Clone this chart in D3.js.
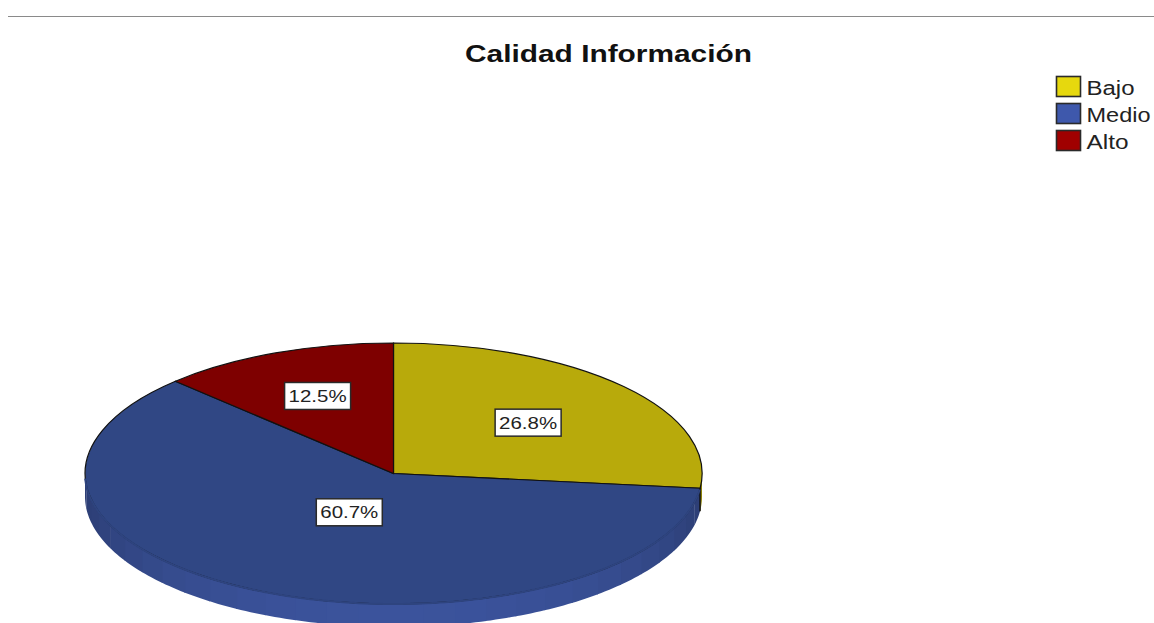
<!DOCTYPE html>
<html>
<head>
<meta charset="utf-8">
<script src="https://cdn.jsdelivr.net/npm/d3@7"></script>
<style>
html,body{margin:0;padding:0;background:#fff}
svg{display:block}
text{font-family:"Liberation Sans",Arial,sans-serif;fill:#222}
</style>
</head>
<body>
<svg id="chart" width="1154" height="623"></svg>
<script>
// Survey result: share of answers per level
const categories = ["Bajo", "Medio", "Alto"];
const shares = [26.8, 60.7, 12.5];
const chartTitle = "Calidad Información";

const faceColors = ["#b8aa0b", "#304784", "#7e0000"];
const rimColors = ["#b8aa0b", "#3b539c", "#7e0000"];
const legendColors = ["#e6d80e", "#3e58ac", "#a00000"];

const W = 1154, H = 623;
const cx = 393.5, cy = 473.5, rx = 308.5, ry = 130.5, depth = 23;
const labelRadius = [0.585, 0.33, 0.643];

const svg = d3.select("#chart");

// Rule above the title
svg.append("line").attr("x1", 8).attr("x2", W).attr("y1", 16.5).attr("y2", 16.5)
  .attr("stroke", "#8a8a8a");

svg.append("text").attr("x", 608.5).attr("y", 62).attr("text-anchor", "middle")
  .attr("font-size", 23).attr("font-weight", "bold")
  .attr("textLength", 287).attr("lengthAdjust", "spacingAndGlyphs")
  .style("fill", "#111").text(chartTitle);

// Pie angles run clockwise from twelve o'clock
const pie = d3.pie().sort(null).value(d => d);
const slices = pie(shares);

const px = a => cx + rx * Math.sin(a);
const py = a => cy - ry * Math.cos(a);

// Rim: one thin band per step, lit most strongly toward the viewer
const rimStep = Math.PI / 30;
const rim = svg.append("g");
const rimShade = d3.scaleLinear().domain([0.2, 1]).range([0.76, 1]).clamp(true);
slices.forEach((s, i) => {
  const from = Math.max(s.startAngle, Math.PI / 2);
  const to = Math.min(s.endAngle, 3 * Math.PI / 2);
  if (to <= from) return;
  const base = d3.rgb(rimColors[i]);
  const stops = d3.range(from, to, rimStep).concat([to]);
  d3.pairs(stops).forEach(([a0, a1]) => {
    const mid = (a0 + a1) / 2;
    const k = rimShade(-Math.cos(mid));
    const fill = d3.rgb(base.r * k, base.g * k, base.b * k);
    const top = d3.range(0, 7).map(j => a0 + (a1 - a0 + 0.004) * j / 6);
    const path = d3.path();
    top.forEach((a, j) => j ? path.lineTo(px(a), py(a)) : path.moveTo(px(a), py(a)));
    top.slice().reverse().forEach(a => path.lineTo(px(a), py(a) + depth));
    path.closePath();
    rim.append("path").attr("d", path.toString()).attr("fill", fill.formatHex());
  });
});

// Dark edge where the first and second slices meet on the rim
const seam = slices[0].endAngle;
svg.append("line")
  .attr("x1", px(seam)).attr("x2", px(seam))
  .attr("y1", py(seam)).attr("y2", py(seam) + depth)
  .attr("stroke", "#111").attr("stroke-width", 1.5);

// Top face: unit-radius arcs squeezed into an ellipse
const arc = d3.arc().innerRadius(0).outerRadius(1);
svg.append("g")
  .attr("transform", `translate(${cx},${cy}) scale(${rx},${ry})`)
  .selectAll("path").data(slices).join("path")
  .attr("d", arc)
  .attr("fill", (d, i) => faceColors[i])
  .attr("stroke", "#111")
  .attr("stroke-width", 1.2)
  .attr("vector-effect", "non-scaling-stroke");

// Soften the outline along the front, where the face meets the rim
const front = d3.path();
const frontAngles = d3.range(seam + 0.01, 3 * Math.PI / 2 - 0.03, 0.02);
frontAngles.forEach((a, j) => j ? front.lineTo(px(a), py(a)) : front.moveTo(px(a), py(a)));
svg.append("path").attr("d", front.toString()).attr("fill", "none")
  .attr("stroke", "#2e447f").attr("stroke-width", 2);

// Value labels
const labels = svg.append("g").selectAll("g").data(slices).join("g")
  .attr("transform", (d, i) => {
    const a = (d.startAngle + d.endAngle) / 2;
    return `translate(${cx + rx * labelRadius[i] * Math.sin(a)},${cy - ry * labelRadius[i] * Math.cos(a)})`;
  });
labels.append("rect").attr("x", -33).attr("y", -13.5).attr("width", 66).attr("height", 27)
  .attr("fill", "#fff").attr("stroke", "#2a2a2a").attr("stroke-width", 1.5);
labels.append("text").attr("text-anchor", "middle").attr("y", 6)
  .attr("font-size", 17)
  .attr("textLength", 58).attr("lengthAdjust", "spacingAndGlyphs")
  .text(d => d.value.toFixed(1) + "%");

// Legend
const legendY = d3.scalePoint().domain(categories).range([76.5, 130.5]);
const legend = svg.append("g").selectAll("g").data(categories).join("g")
  .attr("transform", d => `translate(1056.5,${legendY(d)})`);
legend.append("rect").attr("width", 24).attr("height", 20)
  .attr("fill", (d, i) => legendColors[i])
  .attr("stroke", "#2a2a2a").attr("stroke-width", 1.6);
legend.append("text").attr("x", 30).attr("y", 18).attr("font-size", 20)
  .attr("textLength", d => ({Bajo: 48, Medio: 64, Alto: 42})[d])
  .attr("lengthAdjust", "spacingAndGlyphs")
  .text(d => d);
</script>
</body>
</html>
